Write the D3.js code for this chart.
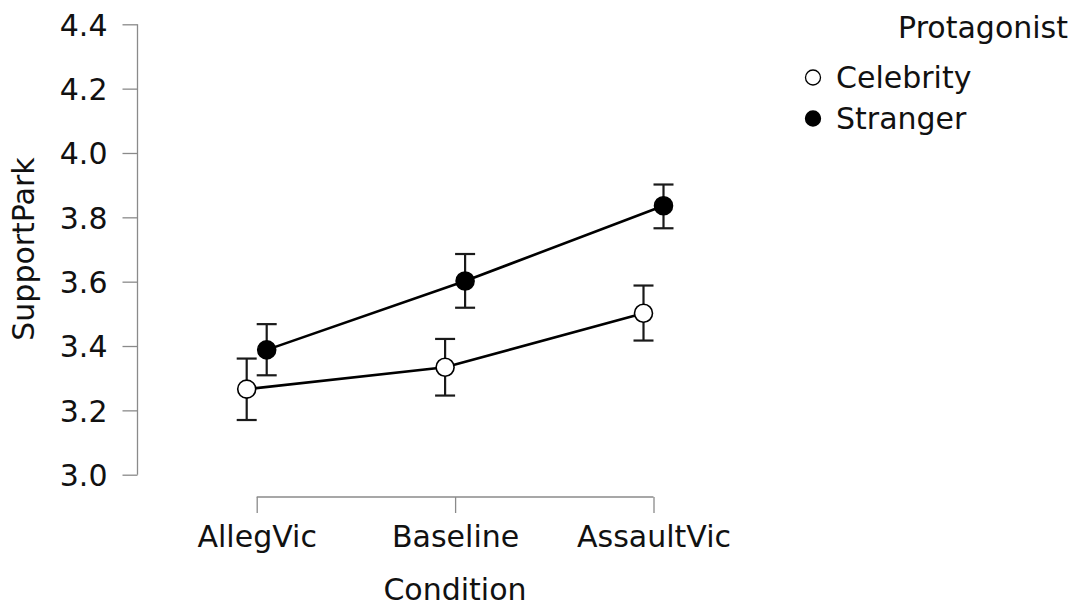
<!DOCTYPE html>
<html>
<head>
<meta charset="utf-8">
<script src="https://cdn.jsdelivr.net/npm/d3@7"></script>
<style>
  html, body { margin: 0; padding: 0; background: #fff; }
  svg { display: block; font-family: "DejaVu Sans", sans-serif; }
</style>
</head>
<body>
<svg id="chart" width="1076" height="609"></svg>
<script>
// ---- data ----
const categories = ["AllegVic", "Baseline", "AssaultVic"];
const seriesNames = ["Celebrity", "Stranger"];
const celebrityMean  = [3.266, 3.334, 3.502];
const celebrityLower = [3.170, 3.246, 3.417];
const celebrityUpper = [3.361, 3.422, 3.588];
const strangerMean   = [3.388, 3.602, 3.836];
const strangerLower  = [3.309, 3.519, 3.766];
const strangerUpper  = [3.468, 3.686, 3.902];
const yTicks = [3.0, 3.2, 3.4, 3.6, 3.8, 4.0, 4.2, 4.4];
const xTitle = "Condition";
const yTitle = "SupportPark";
const legendTitle = "Protagonist";

const series = [
  { name: seriesNames[0], fill: "#ffffff", mean: celebrityMean, lo: celebrityLower, hi: celebrityUpper, dodge: -1 },
  { name: seriesNames[1], fill: "#000000", mean: strangerMean,  lo: strangerLower,  hi: strangerUpper,  dodge: 1 }
];

// ---- layout ----
const svg = d3.select("#chart");
const axisColor = "#8a8a8a";
const textColor = "#111";
const fontSize = 30;
const dodgeW = 10;

const y = d3.scaleLinear().domain([3.0, 4.4]).range([474.7, 24.3]);
const x = d3.scalePoint().domain(categories).range([256.7, 653.5]);

// y axis
const yAxisX = 137.5;
const gy = svg.append("g").attr("transform", `translate(${yAxisX},0)`)
  .call(d3.axisLeft(y).tickValues(yTicks).tickFormat(d3.format(".1f")).tickSize(15).tickPadding(15).tickSizeOuter(0));
gy.select(".domain").attr("stroke", axisColor).attr("stroke-width", 1.3)
  .attr("d", `M0,${y(3.0)}V${y(4.4)}`);
gy.selectAll(".tick line").attr("stroke", axisColor).attr("stroke-width", 1.3);
gy.selectAll(".tick text").attr("fill", textColor).style("font-size", fontSize + "px")
  .style("font-family", "DejaVu Sans").attr("dy", "0.36em");

// x axis
const xAxisY = 497;
const gx = svg.append("g").attr("transform", `translate(0,${xAxisY})`)
  .call(d3.axisBottom(x).tickSize(16).tickPadding(13).tickSizeOuter(0));
gx.select(".domain").attr("stroke", axisColor).attr("stroke-width", 1.3)
  .attr("d", `M${x(categories[0])},0H${x(categories[categories.length - 1])}`);
gx.selectAll(".tick line").attr("stroke", axisColor).attr("stroke-width", 1.3);
gx.selectAll(".tick text").attr("fill", textColor).style("font-size", fontSize + "px")
  .style("font-family", "DejaVu Sans").attr("dy", "0.71em");

// axis titles
svg.append("text").attr("x", 455).attr("y", 600).attr("text-anchor", "middle")
  .style("font-size", fontSize + "px").attr("fill", textColor).text(xTitle);
svg.append("text").attr("transform", `translate(34,249) rotate(-90)`).attr("text-anchor", "middle")
  .style("font-size", fontSize + "px").attr("fill", textColor).text(yTitle);

// lines
const px = (s, i) => x(categories[i]) + s.dodge * dodgeW;
const line = d3.line().x(d => d[0]).y(d => d[1]);
series.forEach(s => {
  const pts = s.mean.map((m, i) => [px(s, i), y(m)]);
  svg.append("path").attr("d", line(pts)).attr("fill", "none")
    .attr("stroke", "#000").attr("stroke-width", 2.6);
});

// error bars
const capW = 10;
series.forEach(s => {
  const g = svg.append("g").attr("stroke", "#1a1a1a").attr("stroke-width", 2.2).attr("fill", "none");
  s.mean.forEach((m, i) => {
    const cx = px(s, i);
    g.append("line").attr("x1", cx).attr("x2", cx).attr("y1", y(s.lo[i])).attr("y2", y(s.hi[i]));
    g.append("line").attr("x1", cx - capW).attr("x2", cx + capW).attr("y1", y(s.lo[i])).attr("y2", y(s.lo[i]));
    g.append("line").attr("x1", cx - capW).attr("x2", cx + capW).attr("y1", y(s.hi[i])).attr("y2", y(s.hi[i]));
  });
});

// points
series.forEach(s => {
  svg.append("g").selectAll("circle").data(s.mean).join("circle")
    .attr("cx", (d, i) => px(s, i)).attr("cy", d => y(d)).attr("r", 9)
    .attr("fill", s.fill).attr("stroke", "#000").attr("stroke-width", 1.6);
});

// legend
svg.append("text").attr("x", 1068).attr("y", 38).attr("text-anchor", "end")
  .style("font-size", fontSize + "px").attr("fill", textColor).text(legendTitle);
const leg = svg.append("g");
series.forEach((s, k) => {
  const cy = 77.5 + k * 41;
  leg.append("circle").attr("cx", 813).attr("cy", cy).attr("r", 7.5)
    .attr("fill", s.fill).attr("stroke", "#000").attr("stroke-width", 1.3);
  leg.append("text").attr("x", 836).attr("y", cy).attr("dy", "0.36em")
    .style("font-size", fontSize + "px").attr("fill", textColor).text(s.name);
});
</script>
</body>
</html>
